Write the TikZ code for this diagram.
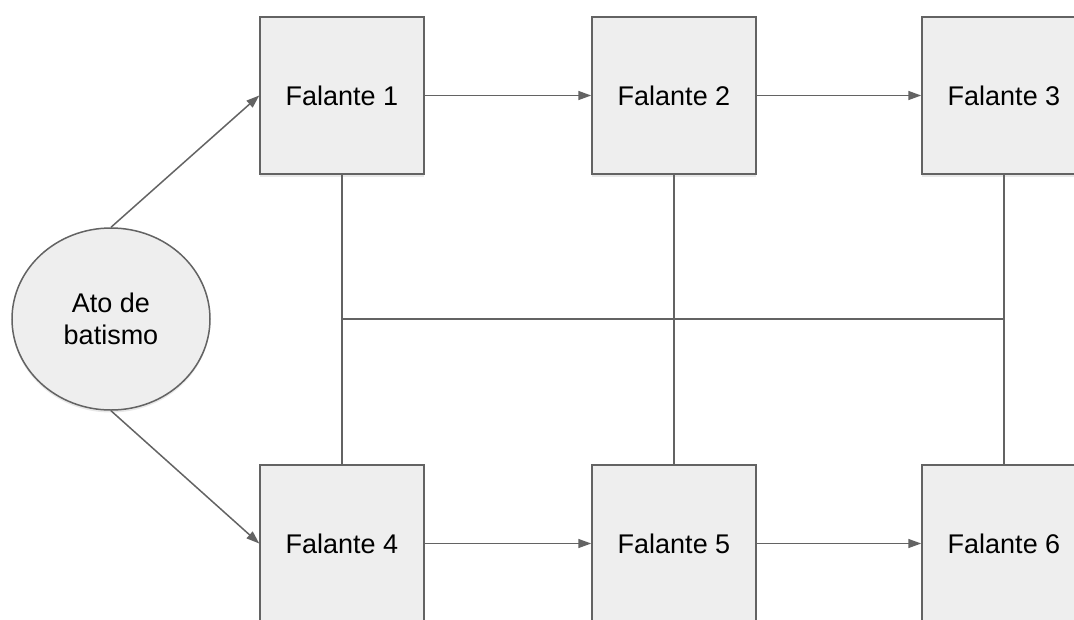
\documentclass[tikz,border=0pt]{standalone}
\usepackage{fontspec}
\setmainfont{Liberation Sans}
\usetikzlibrary{shapes.geometric,arrows.meta,shadows}
\definecolor{boxfill}{HTML}{EEEEEE}
\definecolor{edge}{HTML}{636363}
\begin{document}
\begin{tikzpicture}[x=1pt,y=-1pt,
  falante/.style={rectangle, draw=edge, line width=1.5pt, fill=boxfill,
    minimum width=164pt, minimum height=157pt, inner sep=0pt,
    font=\fontsize{27}{32}\selectfont,
    drop shadow={opacity=0.18, shadow xshift=0pt, shadow yshift=-2.5pt}},
  batismo/.style={ellipse, draw=edge, line width=1.5pt, fill=boxfill,
    minimum width=198pt, minimum height=182pt, inner sep=0pt, align=center,
    font=\fontsize{27}{32}\selectfont,
    drop shadow={opacity=0.18, shadow xshift=0pt, shadow yshift=-2.5pt}},
  link/.style={draw=edge, line width=1.5pt},
  flow/.style={link, -{Triangle[length=13pt,width=9pt]}}]
\useasboundingbox (0,0) rectangle (1074,619);
\clip (0,0) rectangle (1074,619);

% speakers
\node[falante] (f1) at (342,95.5) {Falante 1};
\node[falante] (f2) at (674,95.5) {Falante 2};
\node[falante] (f3) at (1004,95.5) {Falante 3};
\node[falante] (f4) at (342,543.5) {Falante 4};
\node[falante] (f5) at (674,543.5) {Falante 5};
\node[falante] (f6) at (1004,543.5) {Falante 6};

% naming event
\node[batismo] (ato) at (111,319) {Ato de\\batismo};

% ends of the middle crossbar
\coordinate (j1) at (342,319);
\coordinate (j3) at (1004,319);

% plain links between the rows
\draw[link] (f1.south) -- (f4.north);
\draw[link] (f2.south) -- (f5.north);
\draw[link] (f3.south) -- (f6.north);
\draw[link] (j1) -- (j3);

% transmission arrows
\draw[flow] (ato.north) -- (f1.west);
\draw[flow] (ato.south) -- (f4.west);
\draw[flow] (f1.east) -- (f2.west);
\draw[flow] (f2.east) -- (f3.west);
\draw[flow] (f4.east) -- (f5.west);
\draw[flow] (f5.east) -- (f6.west);
\end{tikzpicture}
\end{document}
